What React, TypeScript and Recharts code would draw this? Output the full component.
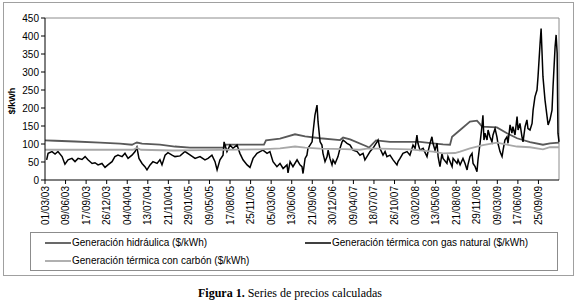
import { LineChart, Line, XAxis, YAxis, ReferenceLine } from "recharts";

// days counted from 01/03/03, one tick label every 100 days
const TICK_LABELS = [
  "01/03/03", "09/06/03", "17/09/03", "26/12/03", "04/04/04", "13/07/04", "21/10/04",
  "29/01/05", "09/05/05", "17/08/05", "25/11/05", "05/03/06", "13/06/06", "21/09/06",
  "30/12/06", "09/04/07", "18/07/07", "26/10/07", "03/02/08", "13/05/08", "21/08/08",
  "29/11/08", "09/03/09", "17/06/09", "25/09/09",
];
const Y_TICKS = [0, 50, 100, 150, 200, 250, 300, 350, 400, 450];

// [day, $/kWh]
const HYDRO: [number, number][] = [
  [0, 110], [49, 109], [146, 107], [268, 104], [365, 101], [423, 98], [438, 102], [447, 104],
  [472, 101], [559, 98], [632, 93], [705, 90], [871, 90], [880, 98], [1065, 98], [1075, 110],
  [1143, 115], [1216, 127], [1265, 121], [1338, 116], [1435, 111], [1450, 118], [1484, 113],
  [1566, 93], [1576, 90], [1610, 110], [1678, 106], [1824, 106], [1887, 102], [1936, 99],
  [1970, 98], [1980, 120], [2019, 139], [2067, 162], [2101, 165], [2116, 155], [2126, 148],
  [2198, 146], [2247, 130], [2296, 116], [2359, 105], [2422, 98], [2456, 102], [2500, 104],
];

const GAS: [number, number][] = [
  [8, 56], [15, 74], [34, 79], [49, 72], [63, 79], [83, 65], [97, 44], [112, 56], [131, 60],
  [146, 51], [161, 60], [180, 57], [195, 65], [209, 56], [229, 46], [243, 48], [258, 42],
  [277, 46], [292, 35], [306, 42], [326, 51], [340, 65], [355, 69], [375, 65], [389, 74],
  [404, 60], [423, 69], [438, 79], [447, 91], [457, 60], [472, 46], [486, 37], [496, 28],
  [511, 42], [525, 51], [545, 46], [559, 56], [569, 42], [584, 69], [598, 76], [618, 69],
  [632, 65], [657, 67], [681, 79], [705, 70], [730, 60], [754, 65], [778, 56], [793, 60],
  [812, 69], [827, 51], [837, 28], [851, 56], [866, 69], [871, 106], [885, 79], [900, 97],
  [914, 88], [934, 97], [948, 74], [963, 56], [983, 42], [997, 35], [1012, 60], [1031, 74],
  [1046, 79], [1060, 83], [1080, 74], [1094, 79], [1109, 51], [1128, 37], [1143, 46],
  [1158, 32], [1177, 42], [1182, 20], [1192, 51], [1206, 37], [1226, 56], [1240, 42],
  [1250, 37], [1255, 18], [1265, 60], [1274, 69], [1279, 88], [1289, 97], [1299, 106],
  [1304, 134], [1313, 180], [1323, 208], [1328, 162], [1338, 106], [1347, 97], [1352, 74],
  [1362, 51], [1372, 65], [1377, 83], [1386, 60], [1396, 42], [1401, 56], [1411, 46],
  [1425, 65], [1435, 88], [1445, 106], [1450, 111], [1469, 102], [1484, 97], [1498, 83],
  [1518, 79], [1532, 69], [1547, 74], [1556, 56], [1566, 65], [1581, 79], [1595, 88],
  [1615, 106], [1620, 111], [1629, 88], [1644, 69], [1654, 79], [1663, 65], [1678, 69],
  [1693, 56], [1712, 42], [1717, 51], [1727, 60], [1741, 74], [1761, 79], [1775, 69],
  [1790, 97], [1800, 88], [1809, 125], [1814, 102], [1824, 83], [1839, 88], [1858, 65],
  [1863, 79], [1873, 102], [1882, 120], [1887, 102], [1897, 83], [1907, 102], [1912, 65],
  [1921, 37], [1931, 74], [1936, 60], [1955, 46], [1960, 65], [1970, 51], [1980, 37],
  [1985, 60], [2004, 46], [2009, 56], [2019, 42], [2033, 60], [2043, 46], [2053, 28],
  [2057, 42], [2067, 65], [2077, 74], [2082, 46], [2092, 37], [2101, 23], [2106, 56],
  [2116, 102], [2126, 153], [2130, 180], [2135, 111], [2140, 130], [2150, 111], [2155, 139],
  [2164, 120], [2174, 106], [2179, 125], [2189, 143], [2198, 120], [2203, 102], [2213, 79],
  [2223, 65], [2228, 83], [2237, 111], [2247, 120], [2252, 102], [2262, 153], [2271, 130],
  [2276, 148], [2286, 125], [2296, 176], [2301, 139], [2310, 157], [2320, 120], [2325, 106],
  [2335, 148], [2344, 167], [2349, 143], [2359, 139], [2369, 157], [2374, 194], [2383, 231],
  [2393, 250], [2398, 287], [2408, 380], [2413, 421], [2417, 361], [2422, 287], [2432, 222],
  [2442, 176], [2447, 153], [2456, 167], [2466, 194], [2471, 259], [2481, 370], [2486, 403],
  [2491, 352], [2493, 231], [2495, 130], [2500, 106],
];

const COAL: [number, number][] = [
  [0, 84], [268, 84], [428, 84], [447, 89], [467, 84], [623, 82], [754, 83], [1046, 85],
  [1143, 88], [1216, 93], [1265, 90], [1338, 87], [1459, 86], [1532, 84], [1566, 87],
  [1629, 87], [1775, 85], [1887, 79], [1936, 74], [1994, 75], [2019, 79], [2067, 88],
  [2130, 97], [2198, 104], [2247, 98], [2296, 93], [2359, 91], [2422, 85], [2456, 91],
  [2500, 91],
];

const SERIES = [
  { name: "Generación hidráulica ($/kWh)", points: HYDRO, color: "#595959", width: 1.8 },
  { name: "Generación térmica con gas natural ($/kWh)", points: GAS, color: "#000000", width: 1.5 },
  { name: "Generación térmica con carbón ($/kWh)", points: COAL, color: "#a8a8a8", width: 1.8 },
];

const FONT = "'Liberation Sans', Arial, sans-serif";

const DateTick = (props: any) => {
  const { x, y, payload, index } = props;
  const label = TICK_LABELS[index ?? Math.round(payload.value / 100)] ?? "";
  return (
    <text
      x={x}
      y={y}
      transform={`rotate(-90 ${x} ${y})`}
      textAnchor="end"
      dy="0.35em"
      fontSize={10}
      fontFamily={FONT}
      fill="#000"
    >
      {label}
    </text>
  );
};

const LegendItem = ({ s, left, top }: any) => (
  <div style={{ position: "absolute", left, top, display: "flex", alignItems: "center", whiteSpace: "nowrap" }}>
    <svg width={26} height={4} style={{ marginRight: 1 }}>
      <line x1={0} y1={2} x2={26} y2={2} stroke={s.color} strokeWidth={s.width} />
    </svg>
    <span>{s.name}</span>
  </div>
);

export default function App() {
  return (
    <div style={{ position: "absolute", left: 0, top: 0, width: 580, height: 305, background: "#fff", fontFamily: FONT }}>
      <div
        style={{
          position: "absolute", left: 3, top: 2, width: 571, height: 274,
          border: "1px solid #a0a0a0", boxSizing: "border-box",
        }}
      />
      <div style={{ position: "absolute", left: 0, top: 0 }}>
        <LineChart width={580} height={235} margin={{ top: 18, right: 21, bottom: 0, left: 0 }}>
          <XAxis
            type="number"
            dataKey="day"
            domain={[0, 2500]}
            ticks={TICK_LABELS.map((_, i) => i * 100)}
            tick={<DateTick />}
            tickSize={4}
            tickMargin={2}
            height={55}
            stroke="#000"
            interval={0}
            minTickGap={0}
          />
          <YAxis
            type="number"
            domain={[0, 450]}
            ticks={Y_TICKS}
            width={45}
            tickSize={4}
            tickMargin={2}
            stroke="#000"
            tick={{ fontSize: 10, fill: "#000", fontFamily: FONT }}
            interval={0}
          />
          <ReferenceLine y={450} stroke="#8c8c8c" />
          <ReferenceLine x={2500} stroke="#8c8c8c" />
          {SERIES.map((s) => (
            <Line
              key={s.name}
              name={s.name}
              data={s.points.map(([day, v]) => ({ day, v }))}
              dataKey="v"
              type="linear"
              stroke={s.color}
              strokeWidth={s.width}
              dot={false}
              activeDot={false}
              isAnimationActive={false}
            />
          ))}
        </LineChart>
      </div>
      <div
        style={{
          position: "absolute", left: 12, top: 101, transform: "translate(-50%, -50%) rotate(-90deg)",
          fontSize: 9, fontWeight: "bold", whiteSpace: "nowrap",
        }}
      >
        $/kWh
      </div>
      <div
        style={{
          position: "absolute", left: 30, top: 232, width: 528, height: 39,
          border: "1px solid #8c8c8c", boxSizing: "border-box", fontSize: 10,
        }}
      >
        <LegendItem s={SERIES[0]} left={14} top={4} />
        <LegendItem s={SERIES[1]} left={274} top={4} />
        <LegendItem s={SERIES[2]} left={14} top={22} />
      </div>
      <div
        style={{
          position: "absolute", left: 0, top: 286, width: 580, textAlign: "center",
          fontFamily: "'Liberation Serif', 'Times New Roman', serif", fontSize: 12,
        }}
      >
        <b>Figura 1.</b> Series de precios calculadas
      </div>
    </div>
  );
}
